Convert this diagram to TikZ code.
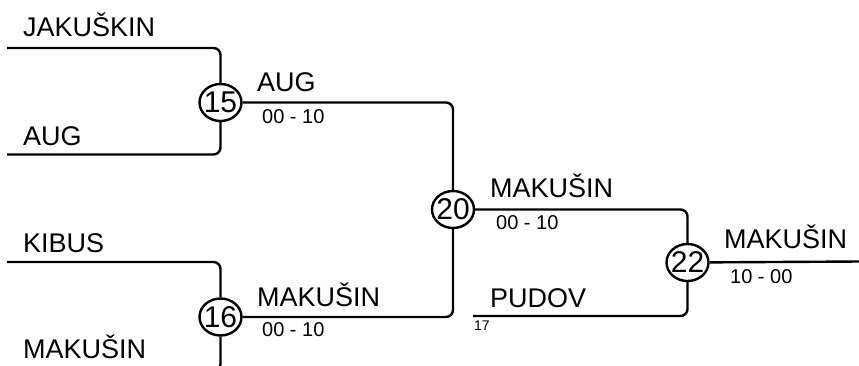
\documentclass[tikz,border=0pt]{standalone}
\usepackage{fontspec}
\setmainfont{Liberation Sans}
\usetikzlibrary{shapes.geometric}
\tikzset{
  wire/.style={line width=2.4pt, rounded corners=7pt},
  match/.style={ellipse, draw, line width=2.4pt, minimum width=42pt, minimum height=37pt,
    inner sep=0pt, label={[font=\fontsize{30}{30}\selectfont, inner sep=0pt]center:#1}},
  player/.style={anchor=base west, inner sep=0pt, font=\fontsize{27}{27}\selectfont},
  score/.style={anchor=base west, inner sep=0pt, font=\fontsize{20}{20}\selectfont},
  seed/.style={anchor=base west, inner sep=0pt, font=\fontsize{14}{14}\selectfont}
}
\begin{document}
\begin{tikzpicture}[x=1pt,y=-1pt]
\useasboundingbox (0,0) rectangle (859,365);
\clip (0,0) rectangle (859,365);
% matches
\node[match=15] (m15) at (220.5,102.5) {};
\node[match=16] (m16) at (220.5,317) {};
\node[match=20] (m20) at (453,209.5) {};
\node[match=22] (m22) at (687.5,262.5) {};
% first round
\coordinate (jak) at (7,48);
\coordinate (aug) at (7,154.5);
\coordinate (kib) at (7,262);
\coordinate (mak) at (7,371);
\coordinate (pud) at (473,316);
\coordinate (fin) at (859,261.5);
\node[player] (tjak) at (23,36) {JAKUŠKIN};
\node[player] (taug) at (23,145) {AUG};
\node[player] (tkib) at (23,252) {KIBUS};
\node[player] (tmak) at (23,358) {MAKUŠIN};
% winners
\node[player] (w15) at (257,91) {AUG};
\node[score] (s15) at (262,123) {00 - 10};
\node[player] (w16) at (257,306) {MAKUŠIN};
\node[score] (s16) at (262,336) {00 - 10};
\node[player] (w20) at (490,197) {MAKUŠIN};
\node[score] (s20) at (496,229) {00 - 10};
\node[player] (tpud) at (490,307) {PUDOV};
\node[seed] (n17) at (474,330) {17};
\node[player] (w22) at (724,248) {MAKUŠIN};
\node[score] (s22) at (730,283) {10 - 00};
% connectors
\draw[wire] (jak) -| (m15);
\draw[wire] (aug) -| (m15);
\draw[wire] (kib) -| (m16);
\draw[wire] (mak) -| (m16);
\draw[wire] (m15) -| (m20);
\draw[wire] (m16) -| (m20);
\draw[wire] (m20) -| (m22);
\draw[wire] (pud) -| (m22);
\draw[wire] (m22) -- (fin);
\end{tikzpicture}
\end{document}
